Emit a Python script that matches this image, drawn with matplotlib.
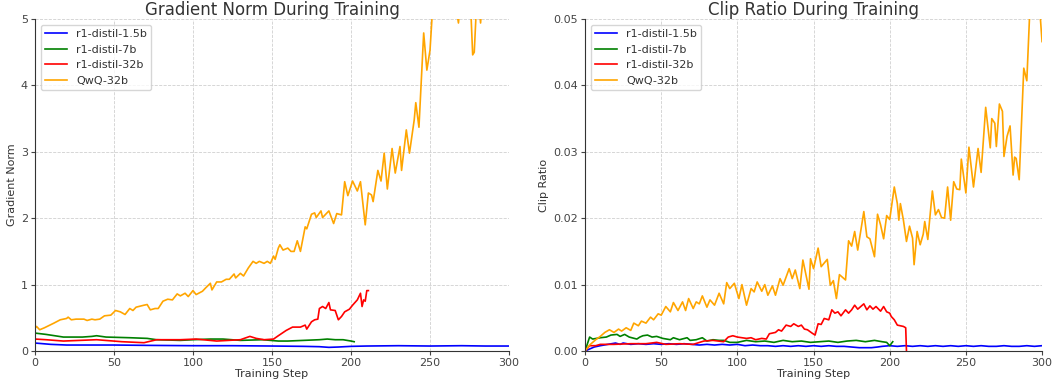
import matplotlib

matplotlib.use("Agg")
import matplotlib.pyplot as plt
from matplotlib.ticker import FormatStrFormatter

# Gradient norm per training step (left panel)
grad_steps_1_5b = [0, 5, 10, 20, 35, 50, 70, 100, 125, 150, 170, 180, 186, 192, 200, 210, 230, 250, 270, 285, 300]
grad_1_5b = [0.12, 0.11, 0.10, 0.09, 0.09, 0.09, 0.085, 0.08, 0.08, 0.075, 0.07, 0.065, 0.055, 0.06, 0.07, 0.075, 0.08, 0.075, 0.08, 0.075, 0.075]

grad_steps_7b = [0, 7, 18, 30, 36, 39, 45, 60, 71, 77, 92, 100, 111, 119, 130, 144, 154, 160, 170, 180, 185, 190, 195, 200, 202]
grad_7b = [0.27, 0.25, 0.21, 0.21, 0.22, 0.23, 0.21, 0.20, 0.19, 0.17, 0.16, 0.17, 0.18, 0.18, 0.16, 0.17, 0.15, 0.15, 0.16, 0.17, 0.18, 0.17, 0.17, 0.15, 0.14]

grad_steps_32b = [0, 7, 18, 39, 55, 69, 77, 92, 102, 115, 130, 136, 140, 145, 151, 154,
                  159, 163, 168, 171, 172, 175, 177, 179, 180, 182, 184, 186, 187, 190,
                  192, 194, 196, 199, 201, 204, 206, 207, 208, 209, 210, 211]
grad_32b = [0.18, 0.17, 0.15, 0.17, 0.14, 0.125, 0.17, 0.17, 0.18, 0.15, 0.17, 0.22, 0.19, 0.17, 0.18, 0.23,
            0.31, 0.36, 0.36, 0.39, 0.33, 0.44, 0.47, 0.48, 0.64, 0.67, 0.64, 0.73, 0.62, 0.61,
            0.47, 0.52, 0.59, 0.63, 0.69, 0.77, 0.87, 0.67, 0.77, 0.75, 0.91, 0.91]

grad_steps_qwq = [0, 1, 3, 6, 12, 16, 20, 21, 23, 26, 31, 33, 36, 38, 41, 44, 48, 51, 54, 57,
                  60, 62, 64, 69, 71, 73, 76, 78, 81, 84, 87, 90, 92, 95, 97, 100, 102, 106, 108, 111,
                  112, 115, 118, 121, 123, 126, 127, 130, 132, 135, 138, 140, 142, 145, 147, 149, 151, 152, 154, 155,
                  157, 160, 162, 164, 166, 168, 171, 172, 175, 177, 178, 181, 182, 186, 189, 191, 194, 196, 198, 201,
                  204, 206, 209, 211, 213, 214, 217, 219, 221, 223, 226, 228, 231, 232, 235, 237, 240, 241, 243, 246,
                  248, 250, 252, 255, 260, 265, 268, 270, 275, 277, 278, 280, 282, 284, 290, 295, 300]
grad_qwq = [0.34, 0.37, 0.32, 0.35, 0.42, 0.47, 0.49, 0.51, 0.47, 0.48, 0.48, 0.46, 0.48, 0.47, 0.48, 0.53, 0.54, 0.61, 0.59, 0.55,
            0.64, 0.61, 0.66, 0.69, 0.70, 0.62, 0.64, 0.64, 0.75, 0.78, 0.77, 0.86, 0.83, 0.87, 0.82, 0.91, 0.85, 0.90, 0.95, 1.02,
            0.92, 1.04, 1.04, 1.08, 1.08, 1.16, 1.10, 1.17, 1.13, 1.25, 1.35, 1.32, 1.35, 1.32, 1.35, 1.32, 1.43, 1.38, 1.55, 1.60,
            1.52, 1.55, 1.50, 1.50, 1.66, 1.50, 1.87, 1.84, 2.06, 2.08, 2.01, 2.11, 2.01, 2.11, 1.92, 2.07, 2.05, 2.55, 2.34, 2.56,
            2.41, 2.55, 1.90, 2.38, 2.35, 2.25, 2.72, 2.56, 2.98, 2.44, 3.05, 2.68, 3.08, 2.72, 3.33, 2.98, 3.48, 3.74, 3.37, 4.79,
            4.23, 4.53, 5.30, 5.60, 5.80, 5.40, 4.94, 5.50, 5.60, 4.46, 4.50, 5.50, 4.94, 5.60, 6.00, 6.20, 6.40]

# Clip ratio per training step (right panel)
clip_steps_1_5b = [0, 3, 6, 10, 15, 20, 23, 25, 30, 35, 40, 45, 50, 55, 60, 65, 70, 75, 80, 85, 90, 95, 100,
                   105, 110, 115, 120, 125, 130, 135, 140, 145, 150, 155, 160, 165, 170, 175, 180, 185, 188, 192, 195,
                   200, 205, 210, 215, 220, 225, 230, 235, 240, 245, 250, 255, 260, 265, 270, 275, 280, 285, 290, 295, 300]
clip_1_5b = [0.0, 0.0003, 0.0006, 0.0008, 0.0010, 0.0012, 0.0010, 0.0012, 0.0010, 0.0011, 0.0010, 0.0011, 0.0010, 0.0011, 0.0010, 0.0011, 0.0010, 0.0009, 0.0010, 0.0009, 0.0010, 0.0009, 0.0010,
             0.0008, 0.0009, 0.0008, 0.0008, 0.0007, 0.0008, 0.0007, 0.0008, 0.0007, 0.0008, 0.0007, 0.0008, 0.0007, 0.0007, 0.0006, 0.0005, 0.0005, 0.0005, 0.0006, 0.0007,
             0.0008, 0.0007, 0.0008, 0.0007, 0.0008, 0.0007, 0.0008, 0.0007, 0.0008, 0.0007, 0.0008, 0.0007, 0.0008, 0.0007, 0.0007, 0.0008, 0.0007, 0.0007, 0.0008, 0.0007, 0.0008]

clip_steps_7b = [0, 3, 5, 10, 14, 17, 21, 23, 26, 29, 34, 36, 38, 41, 44, 47, 51, 56, 58, 62, 67, 69, 73, 77, 80,
                 84, 88, 91, 95, 100, 106, 112, 118, 124, 130, 136, 142, 148, 154, 160, 166, 172, 178, 184, 190,
                 195, 198, 200, 202]
clip_7b = [0.0, 0.0021, 0.0018, 0.0020, 0.0021, 0.0024, 0.0025, 0.0022, 0.0025, 0.0021, 0.0018, 0.0021, 0.0023, 0.0024, 0.0021, 0.0022, 0.0019, 0.0017, 0.0020, 0.0017, 0.0020, 0.0016, 0.0017, 0.0020, 0.0015,
           0.0017, 0.0016, 0.0016, 0.0013, 0.0013, 0.0016, 0.0014, 0.0015, 0.0013, 0.0016, 0.0014, 0.0015, 0.0013, 0.0014, 0.0015, 0.0013, 0.0015, 0.0016, 0.0014, 0.0016,
           0.0014, 0.0013, 0.0008, 0.0014]

clip_steps_32b = [0, 3, 7, 10, 19, 30, 40, 47, 53, 62, 71, 78, 84, 91, 94, 97, 100, 103, 106, 109, 112, 116, 119,
                  121, 125, 127, 129, 132, 135, 137, 140, 142, 144, 146, 149, 151, 153, 155, 157, 160, 162, 164, 166,
                  168, 171, 173, 175, 177, 179, 183, 185, 187, 189, 191, 194, 196, 198, 200, 201, 203, 205, 207, 209, 210.5, 211]
clip_32b = [0.0, 0.0008, 0.0008, 0.0010, 0.0010, 0.0011, 0.0011, 0.0013, 0.0010, 0.0011, 0.0010, 0.0015, 0.0016, 0.0014, 0.0021, 0.0023, 0.0021,
            0.0020, 0.0019, 0.0020, 0.0017, 0.0019, 0.0018, 0.0026, 0.0028, 0.0032, 0.0030, 0.0039, 0.0037, 0.0041, 0.0037, 0.0039, 0.0033,
            0.0032, 0.0027, 0.0024, 0.0041, 0.0040, 0.0049, 0.0047, 0.0062, 0.0057, 0.0059, 0.0053, 0.0062, 0.0057, 0.0062, 0.0069, 0.0063,
            0.0071, 0.0062, 0.0068, 0.0063, 0.0067, 0.0060, 0.0067, 0.0059, 0.0057, 0.0052, 0.0047, 0.0039, 0.0038, 0.0037, 0.0035, 0.0]

clip_steps_qwq = [0, 1, 3, 7, 10, 13, 16, 19, 22, 24, 27, 30, 32, 35, 37, 40, 43, 45, 48, 50,
                  53, 56, 58, 61, 64, 66, 68, 71, 73, 75, 77, 80, 82, 85, 88, 91, 93, 95, 98, 101,
                  103, 106, 109, 111, 113, 116, 118, 120, 123, 125, 128, 130, 134, 136, 138, 141, 143, 145, 147, 148,
                  150, 153, 155, 159, 161, 163, 165, 167, 171, 173, 175, 177, 179, 183, 185, 187, 190, 192, 194, 196,
                  198, 200, 203, 205, 206, 207, 209, 211, 213, 215, 216, 218, 220, 222, 223, 225, 228, 230, 232, 234,
                  236, 238, 240, 242, 244, 246, 247, 250, 252, 255, 258, 260, 263, 266, 267, 269, 270, 272, 274, 275,
                  277, 279, 281, 282, 283, 285, 288, 290, 292, 295, 298, 300]
clip_qwq = [0.0, 0.0003, 0.0009, 0.0017, 0.0022, 0.0028, 0.0032, 0.0028, 0.0033, 0.0030, 0.0035, 0.0031, 0.0042, 0.0038, 0.0045, 0.0042, 0.0051, 0.0047, 0.0056, 0.0054,
            0.0067, 0.0059, 0.0073, 0.0061, 0.0074, 0.0061, 0.0079, 0.0064, 0.0074, 0.0071, 0.0083, 0.0066, 0.0077, 0.0069, 0.0087, 0.0071, 0.0103, 0.0094, 0.0102, 0.0079,
            0.0100, 0.0069, 0.0094, 0.0089, 0.0104, 0.0090, 0.0100, 0.0084, 0.0098, 0.0084, 0.0109, 0.0099, 0.0124, 0.0109, 0.0122, 0.0094, 0.0137, 0.0115, 0.0093, 0.0139,
            0.0124, 0.0155, 0.0127, 0.0138, 0.0099, 0.0106, 0.0079, 0.0115, 0.0107, 0.0166, 0.0158, 0.0180, 0.0152, 0.0210, 0.0172, 0.0169, 0.0142, 0.0206, 0.0190, 0.0169,
            0.0204, 0.0198, 0.0247, 0.0222, 0.0197, 0.0222, 0.0197, 0.0165, 0.0188, 0.0170, 0.0130, 0.0180, 0.0160, 0.0176, 0.0195, 0.0168, 0.0241, 0.0205, 0.0213, 0.0201,
            0.0200, 0.0247, 0.0197, 0.0255, 0.0244, 0.0243, 0.0289, 0.0238, 0.0307, 0.0247, 0.0305, 0.0269, 0.0367, 0.0306, 0.0350, 0.0343, 0.0308, 0.0372, 0.0361, 0.0293,
            0.0323, 0.0339, 0.0265, 0.0292, 0.0290, 0.0258, 0.0426, 0.0407, 0.0515, 0.0560, 0.0530, 0.0466]

labels = ["r1-distil-1.5b", "r1-distil-7b", "r1-distil-32b", "QwQ-32b"]
colors = ["blue", "green", "red", "orange"]

plt.rcParams["font.family"] = "DejaVu Sans"
fig = plt.figure(figsize=(10.53, 3.85), dpi=100)
ax_grad = fig.add_axes([0.0332, 0.0883, 0.4502, 0.8623])
ax_clip = fig.add_axes([0.5556, 0.0883, 0.434, 0.8623])

grad_series = [(grad_steps_1_5b, grad_1_5b), (grad_steps_7b, grad_7b), (grad_steps_32b, grad_32b), (grad_steps_qwq, grad_qwq)]
clip_series = [(clip_steps_1_5b, clip_1_5b), (clip_steps_7b, clip_7b), (clip_steps_32b, clip_32b), (clip_steps_qwq, clip_qwq)]

for (x, y), label, color in zip(grad_series, labels, colors):
    ax_grad.plot(x, y, color=color, linewidth=1.2, label=label)
for (x, y), label, color in zip(clip_series, labels, colors):
    ax_clip.plot(x, y, color=color, linewidth=1.2, label=label)

ax_grad.set_ylim(0, 5)
ax_clip.set_ylim(0, 0.05)
ax_clip.yaxis.set_major_formatter(FormatStrFormatter("%.2f"))

for ax, title, ylabel in [(ax_grad, "Gradient Norm During Training", "Gradient Norm"),
                          (ax_clip, "Clip Ratio During Training", "Clip Ratio")]:
    ax.set_xlim(0, 300)
    ax.set_xticks(range(0, 301, 50))
    ax.set_title(title, fontsize=12, color="#333333", pad=3)
    ax.set_xlabel("Training Step", fontsize=8, color="#333333", labelpad=1)
    ax.set_ylabel(ylabel, fontsize=8, color="#333333", labelpad=3)
    ax.grid(True, linestyle="--", linewidth=0.6, color="#d0d0d0")
    ax.set_axisbelow(True)
    for side in ["top", "right"]:
        ax.spines[side].set_visible(False)
    for side in ["left", "bottom"]:
        ax.spines[side].set_color("#333333")
    ax.tick_params(labelsize=8, colors="#444444", length=3, pad=2)
    ax.legend(loc="upper left", fontsize=8, framealpha=0.8, edgecolor="#cccccc",
              borderaxespad=0.5, handlelength=2.0, labelcolor="#333333")

fig.savefig("out.png", dpi=100)
